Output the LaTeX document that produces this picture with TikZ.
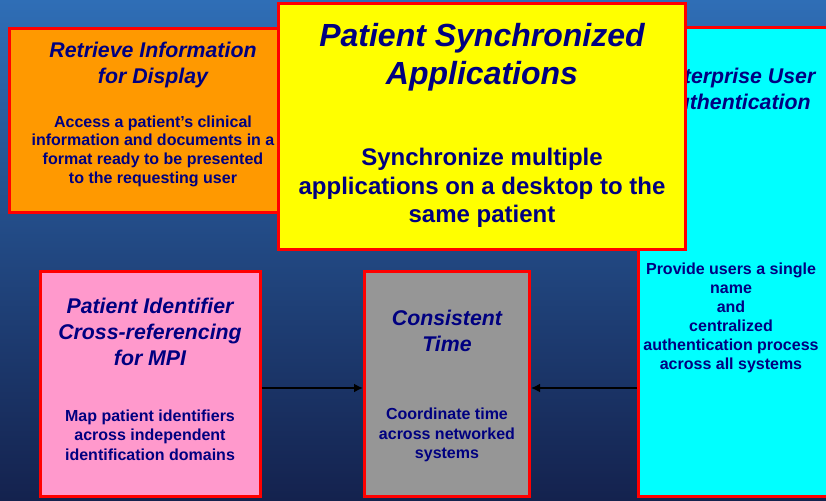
\documentclass[tikz,border=0pt]{standalone}
\usepackage{fontspec}
\setmainfont{Liberation Sans}
\usepackage{tikz}
\usetikzlibrary{arrows.meta}

\definecolor{navytext}{RGB}{0,0,128}
\definecolor{boxorange}{RGB}{255,153,0}
\definecolor{boxpink}{RGB}{255,153,204}
\definecolor{boxgray}{RGB}{150,150,150}
\definecolor{boxcyan}{RGB}{0,255,255}
\definecolor{boxyellow}{RGB}{255,255,0}
\definecolor{bgtop}{RGB}{47,110,182}
\definecolor{bgmid}{RGB}{34,78,140}
\definecolor{bgbottom}{RGB}{20,34,78}

\begin{document}
\begin{tikzpicture}[x=1pt, y=-1pt,
    box/.style = {draw=red, line width=3pt, inner sep=0pt},
    title/.style = {text=navytext, align=center, inner sep=0pt,
        font=\fontsize{21.3}{26}\selectfont\bfseries\itshape},
    body/.style = {text=navytext, align=center, inner sep=0pt,
        font=\fontsize{16}{19}\selectfont\bfseries},
    link/.style = {line width=2.5pt, -{Latex[length=9pt, width=9pt]}}]
    \clip (0,0) rectangle (826,500);
    % background
    \shade[top color=bgtop, middle color=bgmid, bottom color=bgbottom] (0,0) rectangle (826,500);

    % boxes, yellow last so it lies on top
    \node[box, fill=boxorange, minimum width=272pt, minimum height=184pt] (retrieve) at (145,120.5) {};
    \node[box, fill=boxcyan, minimum width=192pt, minimum height=468pt] (euauth) at (734,262) {};
    \node[box, fill=boxpink, minimum width=220pt, minimum height=225pt] (pix) at (150,384) {};
    \node[box, fill=boxgray, minimum width=165pt, minimum height=225pt] (time) at (447,384) {};

    \node[title] (retrievetitle) at (153,65) {Retrieve Information\\for Display};
    \node[body, font=\fontsize{16}{18.7}\selectfont\bfseries] (retrievebody) at (153,151) {Access a patient’s clinical\\information and documents in a\\format ready to be presented\\to the requesting user};

    \node[title] (euatitle) at (736,89) {Enterprise User\\Authentication};
    \node[body] (euabody) at (731,317.5) {Provide users a single\\name\\and\\centralized\\authentication process\\across all systems};

    \node[box, fill=boxyellow, minimum width=407pt, minimum height=246pt] (sync) at (481.5,126.5) {};
    \node[title, font=\fontsize{32}{38}\selectfont\bfseries\itshape] (synctitle) at (482,57) {Patient Synchronized\\Applications};
    \node[body, font=\fontsize{24}{28.5}\selectfont\bfseries] (syncbody) at (482,188) {Synchronize multiple\\applications on a desktop to the\\same patient};

    \node[title] (pixtitle) at (150,331.5) {Patient Identifier\\Cross-referencing\\for MPI};
    \node[body, font=\fontsize{16}{19.7}\selectfont\bfseries] (pixbody) at (150,435) {Map patient identifiers\\across independent\\identification domains};

    \node[title] (timetitle) at (447,330.5) {Consistent\\Time};
    \node[body, font=\fontsize{16}{19.7}\selectfont\bfseries] (timebody) at (447,435) {Coordinate time\\across networked\\systems};

    % connectors into consistent time
    \coordinate (linky) at (0,388);
    \draw[link] (pix.east |- linky) -- (time.west |- linky);
    \draw[link] (euauth.west |- linky) -- (time.east |- linky);
\end{tikzpicture}
\end{document}
